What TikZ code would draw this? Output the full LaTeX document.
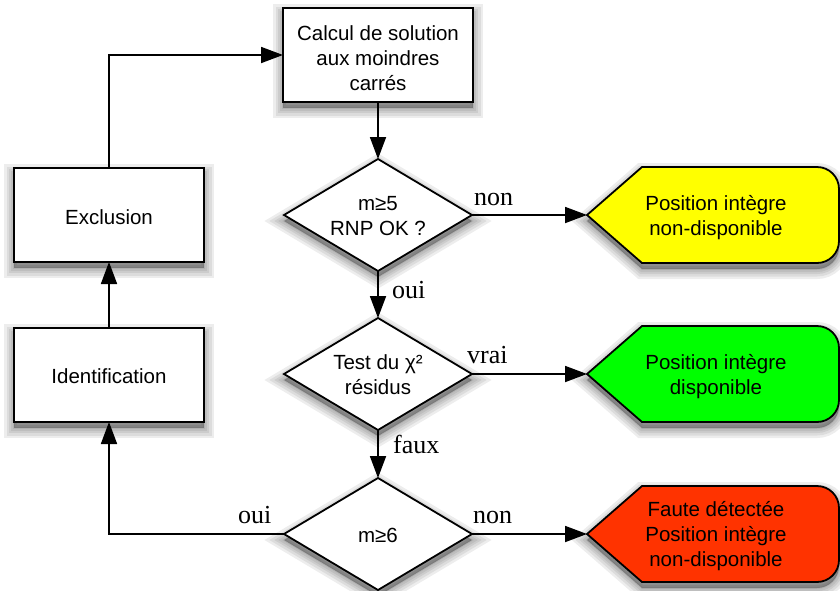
\documentclass[tikz,border=0pt]{standalone}
\usepackage{fontspec}
\setmainfont{Liberation Sans}
\newfontfamily\labelfont{Liberation Serif}
\usetikzlibrary{arrows.meta}

\definecolor{okyellow}{RGB}{255,255,0}
\definecolor{okgreen}{RGB}{0,255,0}
\definecolor{faultred}{RGB}{255,51,0}

\tikzset{
  % soft shadow: stacked translucent strokes under the shape, pushed down a little
  shadowlayer/.style={preaction={draw=black, fill=black, line width=#1,
      opacity=0.07, transform canvas={yshift=-6pt}}},
  softshadow/.style={shadowlayer=20pt, shadowlayer=15pt, shadowlayer=10pt,
      shadowlayer=6pt, shadowlayer=2pt},
  boxtext/.style={font=\fontsize{20.5}{25}\selectfont, align=center, inner sep=0pt},
  procbox/.style={draw, line width=1.8pt, fill=white, minimum width=190pt,
      minimum height=94pt, inner sep=0pt, outer sep=0pt, softshadow},
  testarea/.style={minimum width=188pt, minimum height=112pt, inner sep=0pt, outer sep=0pt},
  outline/.style={draw, line width=1.8pt, softshadow},
  flow/.style={line width=1.8pt, -{Triangle[length=22pt,width=16pt]}},
  answer/.style={font=\labelfont\fontsize{26}{30}\selectfont, inner sep=0pt, anchor=base west},
}

% outcome banner: pointed on the left, rounded on the right, centred at height #1
\newcommand\outcome[2]{%
  \draw[outline, fill=#2] (587,#1) -- (642,#1-48) -- (817,#1-48)
    .. controls (829.15,#1-48) and (839,#1-38.15) .. (839,#1-26)
    -- (839,#1+26)
    .. controls (839,#1+38.15) and (829.15,#1+48) .. (817,#1+48)
    -- (642,#1+48) -- cycle;}

% decision diamond spanning the node area #1
\newcommand\diamondof[1]{%
  \draw[outline, fill=white] (#1.west) -- (#1.north) -- (#1.east) -- (#1.south) -- cycle;}

\begin{document}
\begin{tikzpicture}[x=1pt,y=-1pt]
  \useasboundingbox (0,0) rectangle (840,590);

  % processing boxes
  \node[procbox, label={[boxtext, yshift=-3pt]center:Calcul de solution\\aux moindres\\carrés}]
    (calc) at (378,55) {};
  \node[procbox, label={[boxtext, yshift=-2pt]center:Exclusion}] (excl) at (109,215) {};
  \node[procbox, label={[boxtext, yshift=-1.5pt]center:Identification}] (ident) at (109,375) {};

  % tests
  \node[testarea] (q1) at (378,215) {};
  \node[testarea] (q2) at (378,374) {};
  \node[testarea] (q3) at (378,534) {};
  \diamondof{q1}
  \diamondof{q2}
  \diamondof{q3}
  \node[boxtext] (q1t) at (378,216.5) {m≥5\\RNP OK ?};
  \node[boxtext] (q2t) at (378,375) {Test du χ²\\résidus};
  \node[boxtext] (q3t) at (378,535.5) {m≥6};

  % outcomes
  \outcome{215}{okyellow}
  \outcome{374}{okgreen}
  \outcome{534}{faultred}
  \coordinate (yeltip) at (587,215);
  \coordinate (grntip) at (587,374);
  \coordinate (redtip) at (587,534);
  \node[boxtext] (yel) at (716,217.5) {Position intègre\\non-disponible};
  \node[boxtext] (grn) at (716,376.5) {Position intègre\\disponible};
  \node[boxtext] (red) at (716,536.5) {Faute détectée\\Position intègre\\non-disponible};

  % connectors
  \draw[flow] (calc.south) -- (q1.north);
  \draw[flow] (q1.south) -- (q2.north);
  \draw[flow] (q2.south) -- (q3.north);
  \draw[flow] (q1.east) -- (yeltip);
  \draw[flow] (q2.east) -- (grntip);
  \draw[flow] (q3.east) -- (redtip);
  \draw[flow] (q3.west) -| (ident.south);
  \draw[flow] (ident.north) -- (excl.south);
  \draw[flow] (excl.north) |- (calc.west);

  % branch labels
  \node[answer] (l1) at (474,205) {non};
  \node[answer] (l2) at (392,298) {oui};
  \node[answer] (l3) at (467,363) {vrai};
  \node[answer] (l4) at (393,453) {faux};
  \node[answer] (l5) at (238,523) {oui};
  \node[answer] (l6) at (473,523) {non};
\end{tikzpicture}
\end{document}
